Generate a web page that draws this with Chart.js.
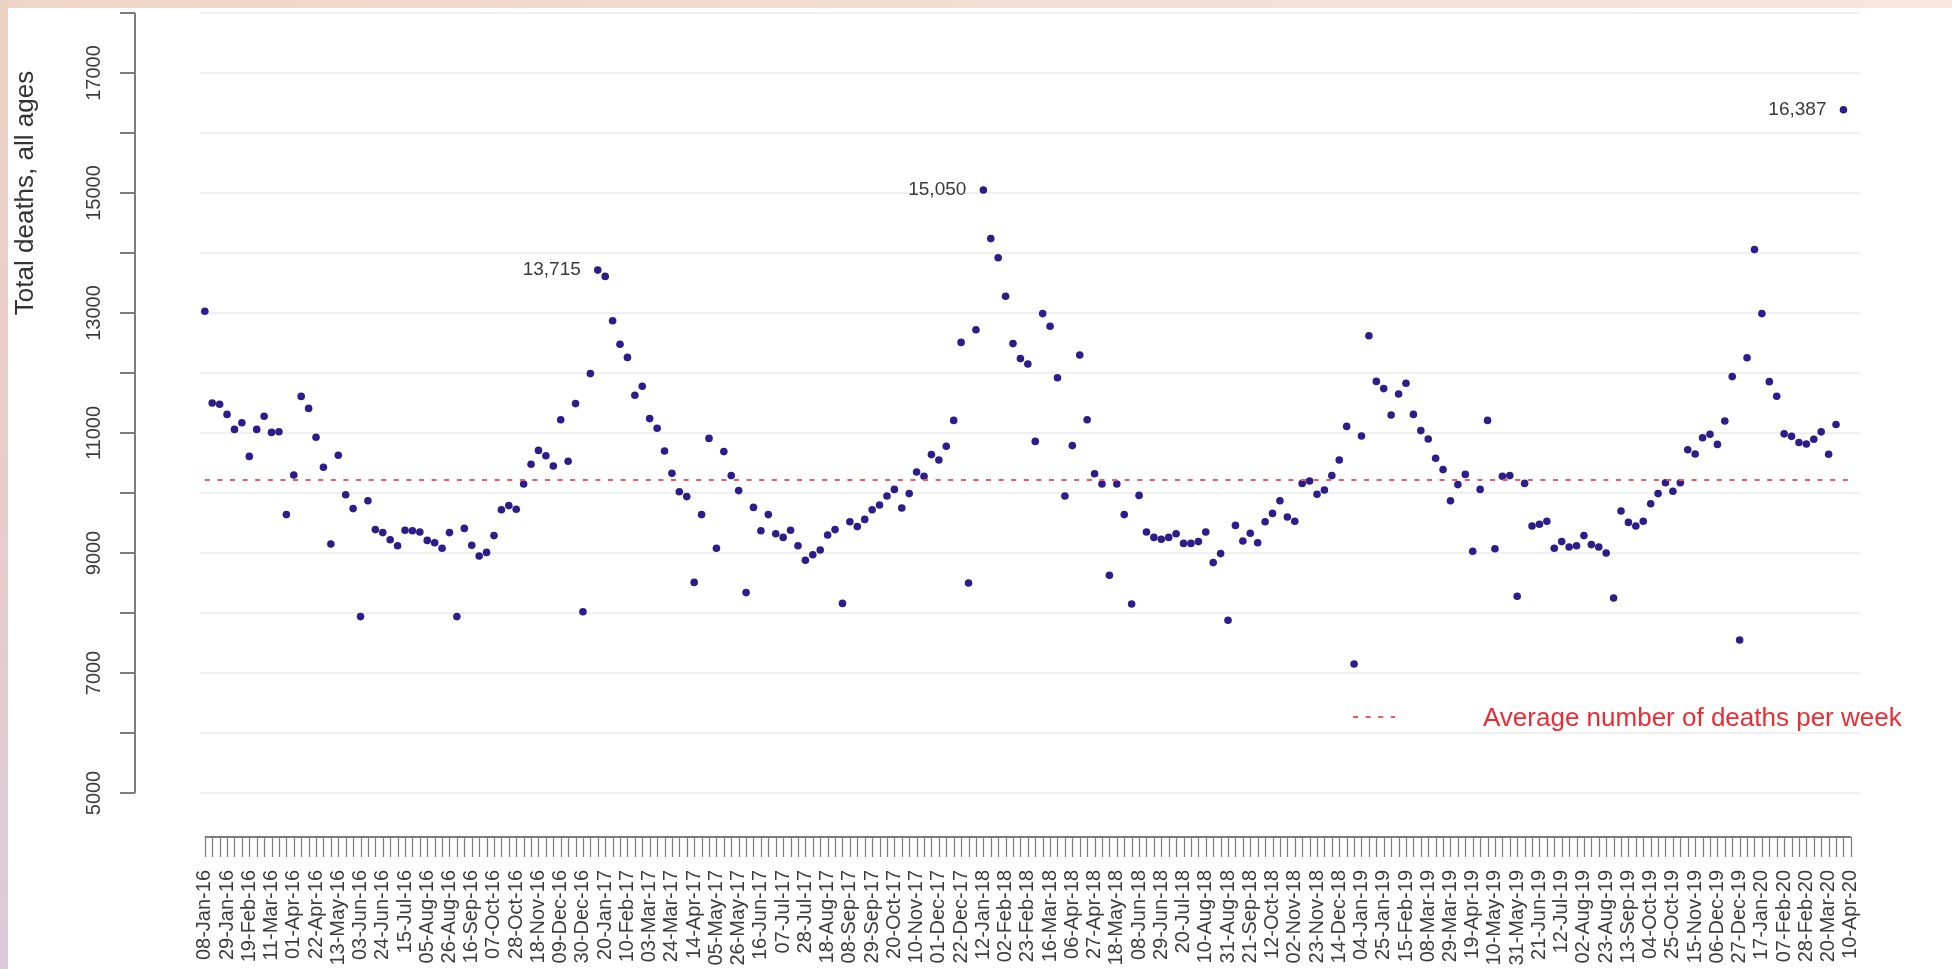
<!DOCTYPE html>
<html>
<head>
<meta charset="utf-8">
<title>Weekly deaths</title>
<script src="https://cdn.jsdelivr.net/npm/chart.js@4.4.1/dist/chart.umd.min.js"></script>
<style>
  html, body { margin:0; padding:0; background:#fff; overflow:hidden; }
  #frame { position:relative; width:1952px; height:969px; }
  .strip-top  { position:absolute; left:0; top:0; width:1952px; height:8px; background:linear-gradient(to right,#eed5c7,#f6e6dc); }
  .strip-left { position:absolute; left:0; top:0; width:8px; height:969px; background:linear-gradient(to bottom,#ecd2c2,#e6cccb 60%,#dcc9da); }
  canvas { position:absolute; left:0; top:0; }
</style>
</head>
<body>
<div id="frame">
  <div class="strip-top"></div>
  <div class="strip-left"></div>
  <canvas id="deaths-chart" width="1952" height="969"></canvas>
</div>
<script>
// x tick labels, one every third week (weeks ending Friday)
const tickLabels = [
  '08-Jan-16','29-Jan-16','19-Feb-16','11-Mar-16','01-Apr-16','22-Apr-16','13-May-16','03-Jun-16','24-Jun-16',
  '15-Jul-16','05-Aug-16','26-Aug-16','16-Sep-16','07-Oct-16','28-Oct-16','18-Nov-16','09-Dec-16','30-Dec-16',
  '20-Jan-17','10-Feb-17','03-Mar-17','24-Mar-17','14-Apr-17','05-May-17','26-May-17','16-Jun-17','07-Jul-17',
  '28-Jul-17','18-Aug-17','08-Sep-17','29-Sep-17','20-Oct-17','10-Nov-17','01-Dec-17','22-Dec-17',
  '12-Jan-18','02-Feb-18','23-Feb-18','16-Mar-18','06-Apr-18','27-Apr-18','18-May-18','08-Jun-18','29-Jun-18',
  '20-Jul-18','10-Aug-18','31-Aug-18','21-Sep-18','12-Oct-18','02-Nov-18','23-Nov-18','14-Dec-18',
  '04-Jan-19','25-Jan-19','15-Feb-19','08-Mar-19','29-Mar-19','19-Apr-19','10-May-19','31-May-19','21-Jun-19',
  '12-Jul-19','02-Aug-19','23-Aug-19','13-Sep-19','04-Oct-19','25-Oct-19','15-Nov-19','06-Dec-19','27-Dec-19',
  '17-Jan-20','07-Feb-20','28-Feb-20','20-Mar-20','10-Apr-20'
];

// total deaths per week, first week = 08-Jan-16
const deaths = [
  13030, 11500, 11480, 11310, 11060, 11170, 10610, 11060, 11280, 11010,
  11020,  9640, 10300, 11610, 11410, 10930, 10430,  9150, 10630,  9970,
   9740,  7940,  9870,  9390,  9340,  9220,  9120,  9380,  9370,  9350,
   9210,  9170,  9080,  9340,  7940,  9410,  9130,  8950,  9010,  9290,
   9720,  9790,  9730, 10150, 10480, 10710, 10620, 10450, 11220, 10530,
  11490,  8020, 11990, 13715, 13610, 12870, 12480, 12260, 11630, 11780,
  11240, 11080, 10700, 10330, 10020,  9940,  8510,  9640, 10910,  9080,
  10690, 10290, 10040,  8340,  9760,  9370,  9640,  9320,  9260,  9380,
   9120,  8880,  8970,  9050,  9300,  9390,  8160,  9520,  9440,  9560,
   9720,  9800,  9950, 10060,  9750,  9990, 10350, 10280, 10640, 10550,
  10780, 11210, 12510,  8500, 12720, 15050, 14240, 13920, 13280, 12490,
  12240, 12150, 10860, 12990, 12780, 11920,  9950, 10790, 12300, 11220,
  10320, 10150,  8630, 10150,  9640,  8150,  9960,  9350,  9260,  9230,
   9260,  9320,  9160,  9160,  9190,  9350,  8840,  8990,  7880,  9460,
   9200,  9330,  9170,  9520,  9660,  9870,  9600,  9530, 10160, 10200,
   9980, 10050, 10290, 10550, 11110,  7150, 10950, 12620, 11860, 11740,
  11300, 11650, 11830, 11310, 11040, 10900, 10580, 10390,  9870, 10140,
  10310,  9030, 10060, 11210,  9070, 10280, 10290,  8280, 10160,  9450,
   9480,  9530,  9080,  9190,  9100,  9120,  9290,  9140,  9100,  9000,
   8250,  9700,  9510,  9450,  9530,  9820,  9990, 10170, 10030, 10170,
  10720, 10650, 10920, 10980, 10810, 11200, 11940,  7550, 12254, 14058,
  12990, 11856, 11612, 10986, 10944, 10841, 10816, 10895, 11019, 10645,
  11141, 16387
];

const labelledWeeks = [53, 105, 221];   // peaks that carry their value
const avgDeaths = 10215;
const avgSpan = [0, 222];
const yLabelTicks = [5000, 7000, 9000, 11000, 13000, 15000, 17000];
const yTitle = 'Total deaths, all ages';
const legendText = 'Average number of deaths per week';

const nWeeks = tickLabels.length * 3 - 2;
const FONT = "'Liberation Sans', Arial, Helvetica, sans-serif";
const RED_LINE = '#f0585e';
const RED_TEXT = '#f02a32';

// R-style detached axes, title, legend and value labels
const rAxes = {
  id: 'rAxes',
  afterDatasetsDraw(chart) {
    const { ctx } = chart;
    const meta = chart.getDatasetMeta(1);
    ctx.save();
    ctx.fillStyle = '#3a3a3a';
    ctx.font = `19px ${FONT}`;
    ctx.textAlign = 'right';
    ctx.textBaseline = 'middle';
    labelledWeeks.forEach(i => {
      const p = meta.data[i];
      ctx.fillText(deaths[i].toLocaleString('en-GB'), p.x - 17, p.y);
    });
    ctx.restore();
  },
  afterDraw(chart) {
    const { ctx, scales: { x, y } } = chart;
    ctx.save();
    ctx.strokeStyle = '#7c7c7c';

    // y axis
    const ax = 135;
    ctx.lineWidth = 2;
    ctx.beginPath();
    ctx.moveTo(ax, y.getPixelForValue(y.min));
    ctx.lineTo(ax, y.getPixelForValue(y.max));
    y.ticks.forEach(t => {
      const py = y.getPixelForValue(t.value);
      ctx.moveTo(ax - 15, py); ctx.lineTo(ax, py);
    });
    ctx.stroke();

    ctx.fillStyle = '#3c3c3c';
    ctx.font = `20px ${FONT}`;
    ctx.textAlign = 'center';
    ctx.textBaseline = 'alphabetic';
    yLabelTicks.forEach(v => {
      ctx.save();
      ctx.translate(100, y.getPixelForValue(v));
      ctx.rotate(-Math.PI / 2);
      ctx.fillText(String(v), 0, 0);
      ctx.restore();
    });

    // y title
    ctx.save();
    ctx.font = `26px ${FONT}`;
    ctx.fillStyle = '#333';
    ctx.translate(33, 193);
    ctx.rotate(-Math.PI / 2);
    ctx.fillText(yTitle, 0, 0);
    ctx.restore();

    // x axis
    const ay = 837;
    ctx.lineWidth = 2;
    ctx.beginPath();
    ctx.moveTo(x.getPixelForValue(0), ay);
    ctx.lineTo(x.getPixelForValue(nWeeks - 1), ay);
    ctx.stroke();
    ctx.lineWidth = 1.2;
    ctx.beginPath();
    x.ticks.forEach(t => {
      const px = Math.round(x.getPixelForValue(t.value)) + 0.5;
      ctx.moveTo(px, ay); ctx.lineTo(px, ay + 20);
    });
    ctx.stroke();

    // legend
    ctx.strokeStyle = RED_LINE;
    ctx.lineWidth = 2;
    ctx.setLineDash([5, 7.6]);
    ctx.beginPath();
    ctx.moveTo(1353, 717); ctx.lineTo(1395, 717);
    ctx.stroke();
    ctx.setLineDash([]);
    ctx.fillStyle = RED_TEXT;
    ctx.font = `26px ${FONT}`;
    ctx.textAlign = 'left';
    ctx.fillText(legendText, 1483, 726);

    ctx.restore();
  }
};

new Chart(document.getElementById('deaths-chart'), {
  type: 'scatter',
  data: {
    datasets: [
      {
        type: 'line',
        data: avgSpan.map(i => ({ x: i, y: avgDeaths })),
        borderColor: RED_LINE,
        borderWidth: 2,
        borderDash: [5, 7.6],
        pointRadius: 0,
        fill: false,
      },
      {
        data: deaths.map((v, i) => ({ x: i, y: v })),
        backgroundColor: '#2c1d8a',
        borderWidth: 0,
        pointRadius: 3.8,
      },
    ],
  },
  options: {
    responsive: false,
    devicePixelRatio: 1,
    animation: false,
    layout: { padding: { left: 0, top: 13, right: 25, bottom: 0 } },
    plugins: { legend: { display: false }, tooltip: { enabled: false } },
    scales: {
      x: {
        type: 'linear',
        min: -0.648, max: 223.2,
        grid: { display: false, drawTicks: false, tickLength: 0 },
        border: { display: false },
        afterBuildTicks: s => { s.ticks = Array.from({ length: nWeeks }, (_, i) => ({ value: i })); },
        afterFit: s => { s.height = 176; },
        ticks: {
          autoSkip: false, minRotation: 90, maxRotation: 90, padding: 77,
          color: '#3c3c3c', font: { family: FONT, size: 20 },
          callback: v => (v % 3 === 0 ? tickLabels[v / 3] : ''),
        },
      },
      y: {
        min: 5000, max: 18000,
        ticks: { display: false, stepSize: 1000 },
        grid: { color: 'rgba(0,0,0,0.06)', lineWidth: 2, drawTicks: false, tickLength: 0 },
        border: { display: false },
        afterFit: s => { s.width = 200; },
      },
    },
  },
  plugins: [rAxes],
});
</script>
</body>
</html>
